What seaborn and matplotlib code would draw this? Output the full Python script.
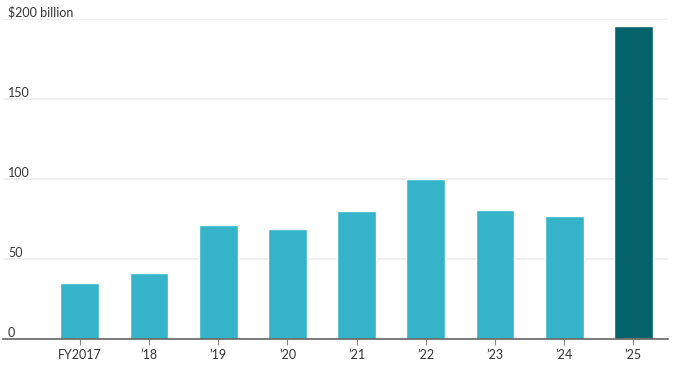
import matplotlib
matplotlib.use("Agg")
import matplotlib.pyplot as plt
import seaborn as sns
import pandas as pd

years = ["FY2017", "’18", "’19", "’20", "’21", "’22", "’23", "’24", "’25"]
values = [35.0, 41.2, 71.0, 69.0, 80.1, 100.0, 80.6, 77.0, 195.5]
ytick_vals = [0, 50, 100, 150, 200]
ytick_labels = ["0", "50", "100", "150", "$200 billion"]

sns.set_theme(style="white")
plt.rcParams["font.family"] = ["Lato", "DejaVu Sans"]

df = pd.DataFrame({"year": years, "value": values})
light = "#35b3c9"
dark = "#03626a"
palette = [light] * (len(years) - 1) + [dark]

fig = plt.figure(figsize=(6.8, 3.71), dpi=100)
ax = fig.add_axes([3 / 680, 32 / 371, 665 / 680, 320 / 371])
sns.barplot(data=df, x="year", y="value", hue="year", palette=palette,
            legend=False, width=0.56, ax=ax, saturation=1, zorder=3)

ax.set_xlim(-1.11, 8.5)
ax.set_ylim(0, 200)
ax.set_xlabel("")
ax.set_ylabel("")
ax.set_yticks(ytick_vals)
ax.set_yticklabels(ytick_labels)
ax.yaxis.grid(True, color="#ebebeb", linewidth=1.2, zorder=0)
ax.tick_params(axis="y", length=0, pad=-3.5, labelsize=9, labelcolor="#333333")
for lab in ax.get_yticklabels():
    lab.set_horizontalalignment("left")
    lab.set_verticalalignment("bottom")
ax.tick_params(axis="x", length=4, width=0.8, color="#888888", labelsize=9,
               labelcolor="#333333", pad=3, bottom=True)
for s in ["top", "right", "left"]:
    ax.spines[s].set_visible(False)
ax.spines["bottom"].set_color("#666666")
ax.spines["bottom"].set_linewidth(1.2)
ax.spines["bottom"].set_zorder(5)

fig.savefig("out.png", dpi=100)
